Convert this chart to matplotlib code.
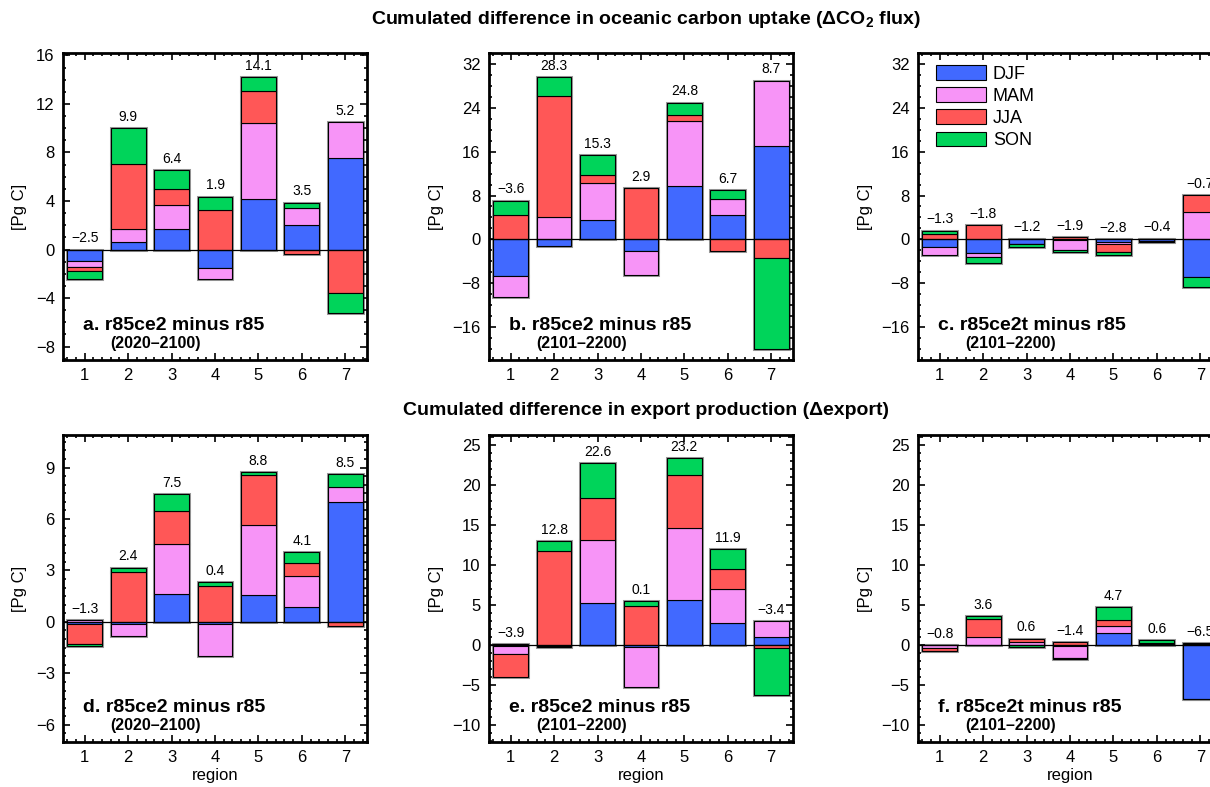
import numpy as np
import matplotlib
matplotlib.use('Agg')
import matplotlib.pyplot as plt
import matplotlib.ticker as ticker
from matplotlib.patches import Patch

plt.rcParams['font.family'] = ['Liberation Sans', 'DejaVu Sans']
plt.rcParams['mathtext.fontset'] = 'custom'
plt.rcParams['mathtext.rm'] = 'Liberation Sans'
plt.rcParams['mathtext.bf'] = 'Liberation Sans:bold'

regions = [1, 2, 3, 4, 5, 6, 7]
seasons = ['DJF', 'MAM', 'JJA', 'SON']
colors = ['#4169ff', '#f794f7', '#ff5757', '#00d45a']

# a. CO2 flux, r85ce2 minus r85 (2020-2100)
a_djf = [-0.93, 0.66, 1.70, -1.51, 4.15, 2.06, 7.53]
a_mam = [-0.50, 1.07, 1.95, -0.91, 6.25, 1.37, 2.94]
a_jja = [-0.36, 5.33, 1.35, 3.27, 2.70, -0.33, -3.60]
a_son = [-0.66, 2.97, 1.54, 1.10, 1.10, 0.44, -1.59]
a_net = [-2.5, 9.9, 6.4, 1.9, 14.1, 3.5, 5.2]

# b. CO2 flux, r85ce2 minus r85 (2101-2200)
b_djf = [-6.75, -1.16, 3.53, -2.07, 9.73, 4.38, 16.97]
b_mam = [-3.83, 4.08, 6.69, -4.44, 11.86, 3.04, 11.98]
b_jja = [4.38, 22.14, 1.52, 9.37, 1.16, -2.07, -3.47]
b_son = [2.68, 3.35, 3.59, 0.05, 2.19, 1.52, -16.60]
b_net = [-3.6, 28.3, 15.3, 2.9, 24.8, 6.7, 8.7]

# c. CO2 flux, r85ce2t minus r85 (2101-2200)
c_djf = [-1.35, -2.57, -0.85, -0.15, -0.43, -0.30, -6.85]
c_mam = [-1.53, -0.73, 0.00, -1.85, -0.43, -0.10, 4.96]
c_jja = [1.04, 2.57, 0.15, 0.40, -1.47, 0.15, 3.12]
c_son = [0.55, -1.05, -0.50, -0.30, -0.47, -0.15, -1.84]
c_net = [-1.3, -1.8, -1.2, -1.9, -2.8, -0.4, -0.7]

# d. export, r85ce2 minus r85 (2020-2100)
d_djf = [-0.15, -0.10, 1.64, -0.10, 1.56, 0.88, 7.01]
d_mam = [0.10, -0.74, 2.92, -1.87, 4.09, 1.77, 0.88]
d_jja = [-1.13, 2.92, 1.91, 2.12, 2.90, 0.76, -0.23]
d_son = [-0.10, 0.25, 0.97, 0.18, 0.21, 0.68, 0.74]
d_net = [-1.3, 2.4, 7.5, 0.4, 8.8, 4.1, 8.5]

# e. export, r85ce2 minus r85 (2101-2200)
e_djf = [-0.10, -0.10, 5.22, -0.25, 5.63, 2.77, 0.99]
e_mam = [-1.08, -0.10, 7.86, -5.05, 8.94, 4.18, 1.95]
e_jja = [-2.86, 11.67, 5.30, 4.88, 6.58, 2.53, -0.41]
e_son = [0.15, 1.32, 4.35, 0.58, 2.19, 2.52, -5.88]
e_net = [-3.9, 12.8, 22.6, 0.1, 23.2, 11.9, -3.4]

# f. export, r85ce2t minus r85 (2101-2200)
f_djf = [-0.05, 0.05, -0.05, -0.10, 1.53, 0.10, -6.70]
f_mam = [-0.30, 0.99, 0.40, -1.49, 0.87, 0.10, 0.00]
f_jja = [-0.35, 2.24, 0.40, 0.37, 0.75, 0.10, 0.10]
f_son = [-0.10, 0.35, -0.15, -0.17, 1.55, 0.30, 0.10]
f_net = [-0.8, 3.6, 0.6, -1.4, 4.7, 0.6, -6.5]


"""
Stacked seasonal bars: positive parts stacked up from zero, negative parts down.
"""
def plot_panel(ax, vals, net, ylim, major, minor, label, period, xlabel=False):
    vals = np.array(vals)
    pos = np.where(vals > 0, vals, 0)
    neg = np.where(vals < 0, vals, 0)
    pos_cum = np.cumsum(pos, axis=0)
    neg_cum = np.cumsum(neg, axis=0)
    bottoms = np.where(vals > 0, pos_cum - pos, neg_cum - neg)

    for i in range(len(seasons)):
        # soft grey halo round the stacks, as in the original
        ax.bar(regions, vals[i], bottom=bottoms[i], width=0.8, color='none',
               edgecolor='#9a9a9a', linewidth=2.2, zorder=1)
        ax.bar(regions, vals[i], bottom=bottoms[i], width=0.8, color=colors[i],
               edgecolor='black', linewidth=0.8, label=seasons[i], zorder=2)

    ax.axhline(0, color='black', linewidth=0.9, zorder=3)

    tops = pos_cum[-1]
    for x, t, n in zip(regions, tops, net):
        ax.annotate(f'{n:.1f}'.replace('-', '\u2212'), (x, t), xytext=(0, 3),
                    textcoords='offset points', ha='center', va='bottom', fontsize=10)

    ax.set_xlim(0.5, 7.5)
    ax.set_ylim(*ylim)
    ax.set_xticks(regions)
    ax.yaxis.set_major_locator(ticker.MultipleLocator(major))
    ax.yaxis.set_minor_locator(ticker.MultipleLocator(minor))
    ax.xaxis.set_minor_locator(ticker.MultipleLocator(0.2))
    ax.tick_params(which='both', direction='in', top=True, right=True, labelsize=12, width=1.2)
    ax.tick_params(which='major', length=5, pad=6)
    ax.tick_params(which='minor', length=2.5)
    for s in ax.spines.values():
        s.set_linewidth(2)

    ax.set_ylabel('[Pg C]', fontsize=12, labelpad=6)
    if xlabel:
        ax.set_xlabel('region', fontsize=12, labelpad=2)

    ax.text(0.066, 0.112, label, transform=ax.transAxes, fontsize=14, weight='bold',
            ha='left', va='center')
    ax.text(0.155, 0.054, period, transform=ax.transAxes, fontsize=11.5, weight='bold',
            ha='left', va='center')


fig = plt.figure(figsize=(12.1, 7.87), dpi=100)

w, h = 0.2512, 0.3901
lefts = [0.0521, 0.4041, 0.7587]
bots = [0.5426, 0.0572]

ax_a = fig.add_axes([lefts[0], bots[0], w, h])
ax_b = fig.add_axes([lefts[1], bots[0], w, h])
ax_c = fig.add_axes([lefts[2], bots[0], w, h])
ax_d = fig.add_axes([lefts[0], bots[1], w, h])
ax_e = fig.add_axes([lefts[1], bots[1], w, h])
ax_f = fig.add_axes([lefts[2], bots[1], w, h])

plot_panel(ax_a, [a_djf, a_mam, a_jja, a_son], a_net, (-9.1, 16.2), 4, 1,
           'a. r85ce2 minus r85', '(2020\u20132100)')
plot_panel(ax_b, [b_djf, b_mam, b_jja, b_son], b_net, (-22, 34), 8, 2,
           'b. r85ce2 minus r85', '(2101\u20132200)')
plot_panel(ax_c, [c_djf, c_mam, c_jja, c_son], c_net, (-22, 34), 8, 2,
           'c. r85ce2t minus r85', '(2101\u20132200)')
plot_panel(ax_d, [d_djf, d_mam, d_jja, d_son], d_net, (-7, 10.9), 3, 0.5,
           'd. r85ce2 minus r85', '(2020\u20132100)', xlabel=True)
plot_panel(ax_e, [e_djf, e_mam, e_jja, e_son], e_net, (-12.1, 26.2), 5, 1,
           'e. r85ce2 minus r85', '(2101\u20132200)', xlabel=True)
plot_panel(ax_f, [f_djf, f_mam, f_jja, f_son], f_net, (-12.1, 26.2), 5, 1,
           'f. r85ce2t minus r85', '(2101\u20132200)', xlabel=True)

handles = [Patch(facecolor=c, edgecolor='black', linewidth=0.8) for c in colors]
ax_c.legend(handles, seasons, loc='upper left', bbox_to_anchor=(0.035, 0.985), frameon=False,
            fontsize=13, handlelength=2.8, handleheight=0.9, labelspacing=0.25,
            handletextpad=0.35, borderaxespad=0)

fig.text(0.534, 0.975, 'Cumulated difference in oceanic carbon uptake (\u0394CO$_\\mathbf{2}$ flux)',
         ha='center', va='center', fontsize=14, weight='bold')
fig.text(0.534, 0.479, 'Cumulated difference in export production (\u0394export)',
         ha='center', va='center', fontsize=14, weight='bold')

plt.savefig('out.png', dpi=100)
